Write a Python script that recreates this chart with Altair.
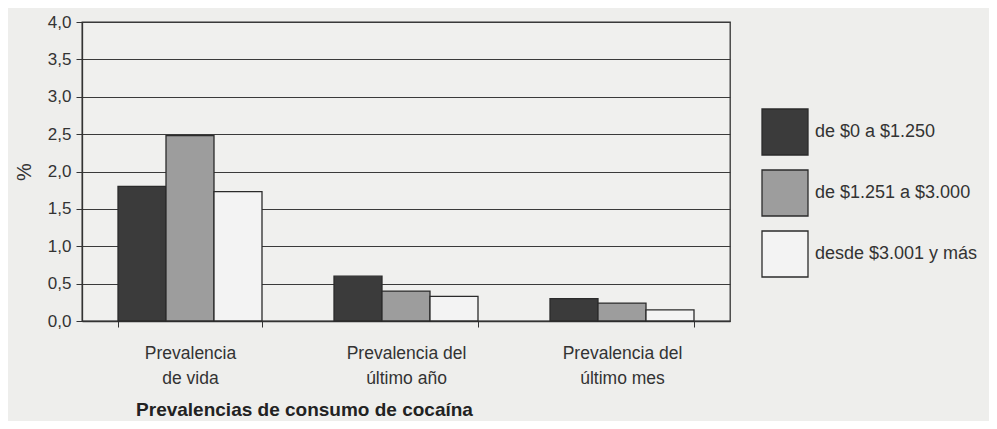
import altair as alt
import pandas as pd

groups = ["Prevalencia|de vida", "Prevalencia del|último año", "Prevalencia del|último mes"]
series = ["de $0 a $1.250", "de $1.251 a $3.000", "desde $3.001 y más"]
vals_low = [1.80, 0.60, 0.30]
vals_mid = [2.48, 0.40, 0.24]
vals_high = [1.73, 0.33, 0.15]
colors = ["#3b3b3b", "#9d9d9d", "#f3f3f3"]
y_ticks = [0, 0.5, 1.0, 1.5, 2.0, 2.5, 3.0, 3.5, 4.0]

rows = []
for s, vals in zip(series, [vals_low, vals_mid, vals_high]):
    for g, v in zip(groups, vals):
        rows.append({"grupo": g, "serie": s, "valor": v})
df = pd.DataFrame(rows)

FONT = "Liberation Sans"

chart = alt.Chart(df).mark_bar(stroke="#2b2b2b", strokeWidth=1.3).encode(
    x=alt.X("grupo:N", sort=groups,
            scale=alt.Scale(paddingInner=1/3, paddingOuter=1/6),
            axis=alt.Axis(title="Prevalencias de consumo de cocaína",
                          labelExpr="split(datum.label, '|')",
                          labelAngle=0, labelFontSize=17.5, labelLineHeight=25,
                          labelPadding=17, labelColor="#333333", labelFont=FONT,
                          tickBand="extent", tickSize=6, tickColor="#333333",
                          domainColor="#333333", domainWidth=1.3,
                          titleFont=FONT, titleFontSize=19, titleFontWeight="bold",
                          titleColor="#222222", titlePadding=14,
                          titleX=222, titleAlign="center")),
    xOffset=alt.XOffset("serie:N", sort=series,
                        scale=alt.Scale(paddingInner=0, paddingOuter=0)),
    y=alt.Y("valor:Q", scale=alt.Scale(domain=[0, 4], nice=False),
            axis=alt.Axis(title="%", values=y_ticks,
                          labelExpr="replace(format(datum.value, '.1f'), '.', ',')",
                          labelFontSize=17, labelColor="#333333", labelFont=FONT,
                          labelPadding=5, tickSize=6, tickColor="#333333",
                          domainColor="#333333", domainWidth=1.3,
                          grid=True, gridColor="#3a3a3a", gridWidth=1.2,
                          titleFont=FONT, titleFontSize=20, titleFontWeight="normal",
                          titleColor="#333333", titlePadding=13)),
    color=alt.Color("serie:N", sort=series,
                    scale=alt.Scale(domain=series, range=colors),
                    legend=alt.Legend(title=None, orient="none", legendX=679, legendY=86,
                                      symbolType="square", symbolSize=2116,
                                      symbolStrokeColor="#2b2b2b", symbolStrokeWidth=1.3,
                                      labelFontSize=18, labelFont=FONT, labelColor="#333333",
                                      labelLimit=300,
                                      labelOffset=6, rowPadding=9, padding=0)),
).properties(
    width=648, height=299,
    padding={"left": 74, "top": 14, "right": 259, "bottom": 100},
    autosize=alt.AutoSizeParams(type="none"),
).configure(
    background="#eeeeec",
).configure_view(
    stroke="#333333", strokeWidth=1.3, fill="#f0f0ee"
)

chart.save("out.html", embed_options={"renderer": "svg", "actions": False})
